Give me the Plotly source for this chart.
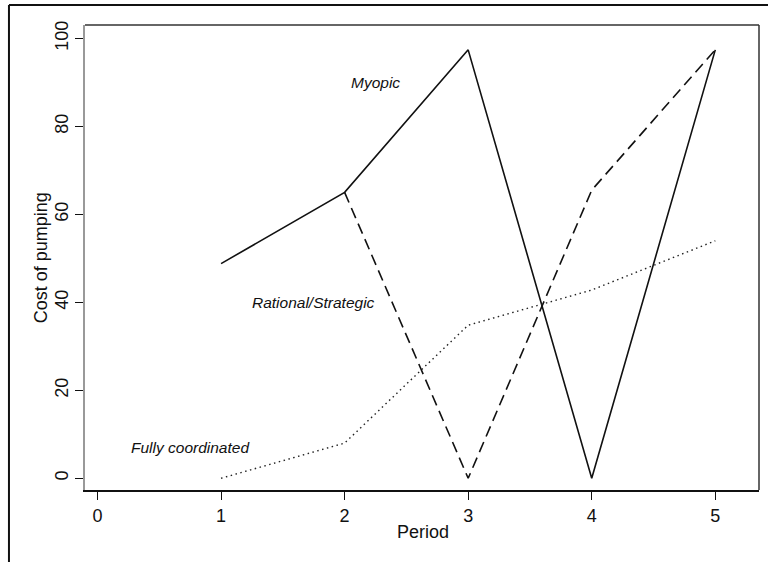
import plotly.graph_objects as go

# Cost of pumping per period under three management regimes
periods = [1, 2, 3, 4, 5]
myopic = [48.8, 65.0, 97.4, 0.0, 97.4]
rational_periods = [2, 3, 4, 5]
rational = [65.0, 0.0, 65.5, 97.4]
coordinated = [0.0, 8.0, 34.8, 42.8, 54.0]

x_ticks = [0, 1, 2, 3, 4, 5]
y_ticks = [0, 20, 40, 60, 80, 100]

# Curve labels: (text, x, y)
curve_labels = [
    ("Myopic", 2.25, 90),
    ("Rational/Strategic", 1.75, 40),
    ("Fully coordinated", 0.75, 7),
]

W, H = 768, 562
L, R, T, B = 85, 758.7, 25.3, 490  # plot area in pixels


def px_x(p):
    return (p - L) / (R - L)


def px_y(p):
    return (B - p) / (B - T)


FONT = "Liberation Sans, Arial, sans-serif"
INK = "#111111"

fig = go.Figure()
fig.add_trace(go.Scatter(x=periods, y=myopic, mode="lines",
                         line=dict(color=INK, width=1.6)))
fig.add_trace(go.Scatter(x=rational_periods, y=rational, mode="lines",
                         line=dict(color=INK, width=1.6, dash="11px,6px")))
fig.add_trace(go.Scatter(x=periods, y=coordinated, mode="lines",
                         line=dict(color="#222222", width=1.4,
                                   dash="1.5px,3.5px")))

for text, x, y in curve_labels:
    fig.add_annotation(x=x, y=y, xref="x", yref="y", text=f"<i>{text}</i>",
                       showarrow=False, xanchor="center", yanchor="middle",
                       font=dict(family=FONT, size=15.5, color=INK))

# Axis titles
fig.add_annotation(x=px_x(422.5), y=px_y(532), xref="paper", yref="paper",
                   text="Period", showarrow=False,
                   xanchor="center", yanchor="middle",
                   font=dict(family=FONT, size=18, color=INK))
fig.add_annotation(x=px_x(40.5), y=px_y(258), xref="paper", yref="paper",
                   text="Cost of pumping", textangle=-90, showarrow=False,
                   xanchor="center", yanchor="middle",
                   font=dict(family=FONT, size=18, color=INK))

shapes = [
    # plot box: top and right edges
    dict(type="line", xref="paper", yref="paper", x0=0, x1=1, y0=1, y1=1,
         line=dict(color="#333333", width=1.5)),
    dict(type="line", xref="paper", yref="paper", x0=1, x1=1, y0=0, y1=1,
         line=dict(color="#333333", width=1.5)),
    # outer frame: top and left edges
    dict(type="line", xref="paper", yref="paper",
         x0=px_x(9), x1=px_x(768), y0=px_y(5.3), y1=px_y(5.3),
         line=dict(color=INK, width=2)),
    dict(type="line", xref="paper", yref="paper",
         x0=px_x(9), x1=px_x(9), y0=px_y(5.3), y1=px_y(562),
         line=dict(color=INK, width=2)),
]

x_scale = 123.5
x_zero = 97.5
y_scale = 4.396
y_zero = 478.3

fig.update_layout(
    width=W, height=H,
    margin=dict(l=L, r=W - R, t=T, b=H - B),
    paper_bgcolor="white", plot_bgcolor="white",
    showlegend=False,
    shapes=shapes,
    xaxis=dict(
        range=[(L - x_zero) / x_scale, (R - x_zero) / x_scale],
        tickvals=x_ticks, ticks="outside", ticklen=8, tickwidth=1,
        tickcolor=INK, showgrid=False, zeroline=False,
        showline=True, linecolor=INK, linewidth=2,
        tickfont=dict(family=FONT, size=18, color=INK),
    ),
    yaxis=dict(
        range=[(y_zero - B) / y_scale, (y_zero - T) / y_scale],
        tickvals=y_ticks, ticks="outside", ticklen=8, tickwidth=1,
        tickcolor=INK, showgrid=False, zeroline=False,
        showline=True, linecolor="#999999", linewidth=2,
        tickangle=-90,
        tickfont=dict(family=FONT, size=18, color=INK),
    ),
)

fig.write_html("out.html")
